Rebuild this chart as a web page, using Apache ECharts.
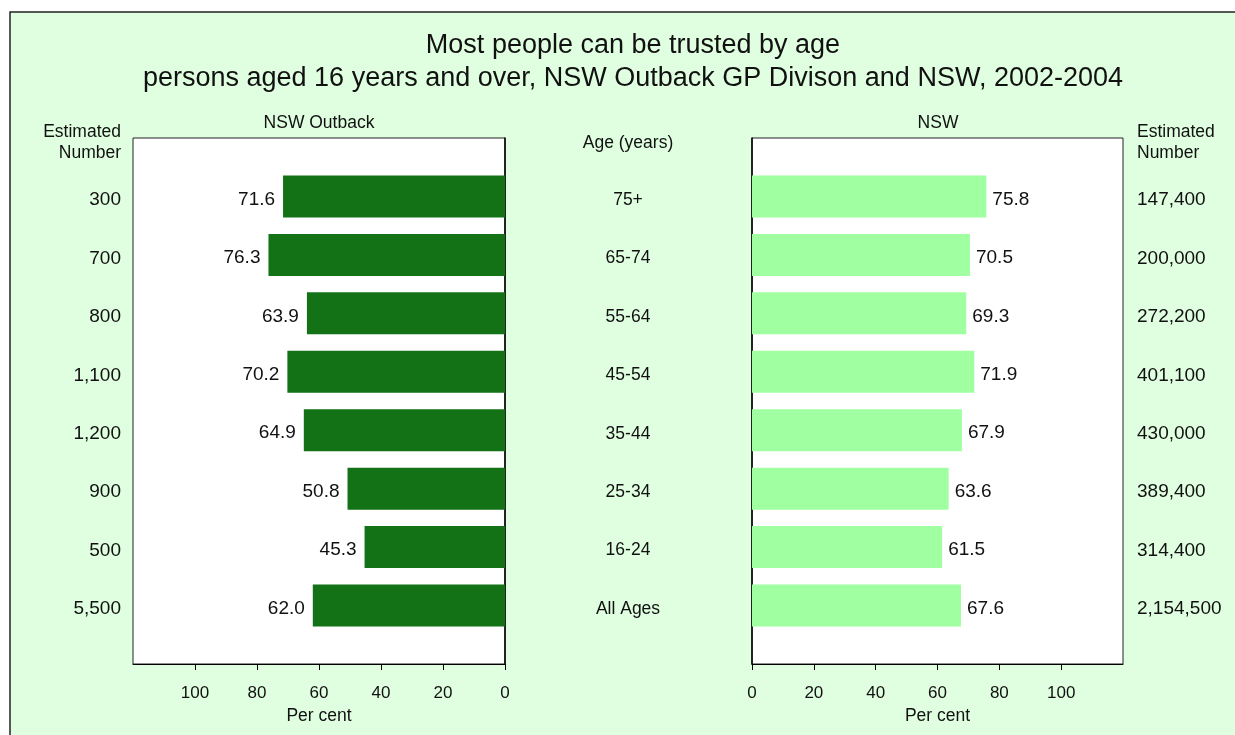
<!DOCTYPE html>
<html>
<head>
<meta charset="utf-8">
<script src="https://cdn.jsdelivr.net/npm/echarts@6/dist/echarts.min.js"></script>
<style>
html,body{margin:0;padding:0;background:#fff;}
#c{width:1235px;height:735px;}
</style>
</head>
<body>
<div id="c"></div>
<script>
const ages = ['75+', '65-74', '55-64', '45-54', '35-44', '25-34', '16-24', 'All Ages'];
const outbackPct = [71.6, 76.3, 63.9, 70.2, 64.9, 50.8, 45.3, 62.0];
const nswPct = [75.8, 70.5, 69.3, 71.9, 67.9, 63.6, 61.5, 67.6];
const outbackEst = ['300', '700', '800', '1,100', '1,200', '900', '500', '5,500'];
const nswEst = ['147,400', '200,000', '272,200', '401,100', '430,000', '389,400', '314,400', '2,154,500'];
const tickValues = [0, 20, 40, 60, 80, 100];

const FONT = '"Liberation Sans", Arial, sans-serif';
const cats = [''].concat(ages, ['']);
const pad = arr => ['-'].concat(arr, ['-']);
const wrap = s => s ? '{s|' + s + '}' : '';
const estFor = (arr) => (v, i) => (i >= 1 && i <= arr.length) ? wrap(arr[i - 1]) : '';

const chart = echarts.init(document.getElementById('c'), null, {renderer: 'canvas'});

const xCommon = {
  type: 'value', min: 0, max: 120, interval: 20,
  splitLine: {show: false},
  axisLine: {show: true, lineStyle: {color: '#000', width: 1}},
  axisTick: {show: true, length: 6, inside: false, customValues: tickValues, lineStyle: {color: '#000'}},
  axisLabel: {customValues: tickValues, margin: 21, fontSize: 17, color: '#111', fontFamily: FONT},
  name: 'Per cent', nameLocation: 'middle', nameGap: 39,
  nameTextStyle: {fontSize: 17.5, color: '#111', fontFamily: FONT}
};

const richShift = (size) => ({s: {padding: [7, 0, 0, 0], fontSize: size, color: '#111', fontFamily: FONT}});

const option = {
  animation: false,
  textStyle: {fontFamily: FONT},
  graphic: [
    {type: 'rect', z: -10, silent: true, shape: {x: 10, y: 12, width: 1240, height: 740},
     style: {fill: '#e0ffe0', stroke: '#222', lineWidth: 1.5}},
    {type: 'text', x: 121, y: 122, style: {text: 'Estimated\nNumber', align: 'right', font: '17.5px ' + FONT, fill: '#111', lineHeight: 21}},
    {type: 'text', x: 1137, y: 122, style: {text: 'Estimated\nNumber', align: 'left', font: '17.5px ' + FONT, fill: '#111', lineHeight: 21}},
    {type: 'text', x: 319, y: 114, style: {text: 'NSW Outback', align: 'center', font: '17.5px ' + FONT, fill: '#111'}},
    {type: 'text', x: 938, y: 114, style: {text: 'NSW', align: 'center', font: '17.5px ' + FONT, fill: '#111'}},
    {type: 'text', x: 628, y: 134, style: {text: 'Age (years)', align: 'center', font: '17.5px ' + FONT, fill: '#111'}}
  ],
  title: {
    text: 'Most people can be trusted by age\npersons aged 16 years and over, NSW Outback GP Divison and NSW, 2002-2004',
    left: 628, top: 24, textAlign: 'center',
    textStyle: {fontSize: 27, fontWeight: 'normal', color: '#111', lineHeight: 33, fontFamily: FONT}
  },
  grid: [
    {left: 133, width: 372, top: 138, height: 526, show: true, backgroundColor: '#fff', borderColor: '#222', borderWidth: 1},
    {left: 752, width: 371, top: 138, height: 526, show: true, backgroundColor: '#fff', borderColor: '#222', borderWidth: 1}
  ],
  xAxis: [
    Object.assign({}, xCommon, {gridIndex: 0, inverse: true}),
    Object.assign({}, xCommon, {gridIndex: 1})
  ],
  yAxis: [
    {gridIndex: 0, type: 'category', data: cats, inverse: true, boundaryGap: false, position: 'right',
     axisLine: {show: true, lineStyle: {color: '#000', width: 1.5}}, axisTick: {show: false},
     axisLabel: {show: false}},
    {gridIndex: 0, type: 'category', data: cats, inverse: true, boundaryGap: false, position: 'left',
     axisLine: {show: false}, axisTick: {show: false},
     axisLabel: {formatter: estFor(outbackEst), margin: 12, rich: richShift(19), interval: 0}},
    {gridIndex: 1, type: 'category', data: cats, inverse: true, boundaryGap: false, position: 'left',
     axisLine: {show: true, lineStyle: {color: '#000', width: 1.5}}, axisTick: {show: false},
     axisLabel: {formatter: v => wrap(v), margin: 124, align: 'center', rich: richShift(17.5), interval: 0}},
    {gridIndex: 1, type: 'category', data: cats, inverse: true, boundaryGap: false, position: 'right',
     axisLine: {show: false}, axisTick: {show: false},
     axisLabel: {formatter: estFor(nswEst), margin: 14, rich: richShift(19), interval: 0}}
  ],
  series: [
    {type: 'bar', xAxisIndex: 0, yAxisIndex: 0, data: pad(outbackPct), barWidth: 42,
     itemStyle: {color: '#127215'},
     label: {show: true, position: 'left', distance: 8, offset: [0, 3], fontSize: 19, color: '#111', fontFamily: FONT,
             formatter: p => p.value.toFixed(1)}},
    {type: 'bar', xAxisIndex: 1, yAxisIndex: 2, data: pad(nswPct), barWidth: 42,
     itemStyle: {color: '#a0ffa0'},
     label: {show: true, position: 'right', distance: 6, offset: [0, 3], fontSize: 19, color: '#111', fontFamily: FONT,
             formatter: p => p.value.toFixed(1)}}
  ]
};
chart.setOption(option);
</script>
</body>
</html>
